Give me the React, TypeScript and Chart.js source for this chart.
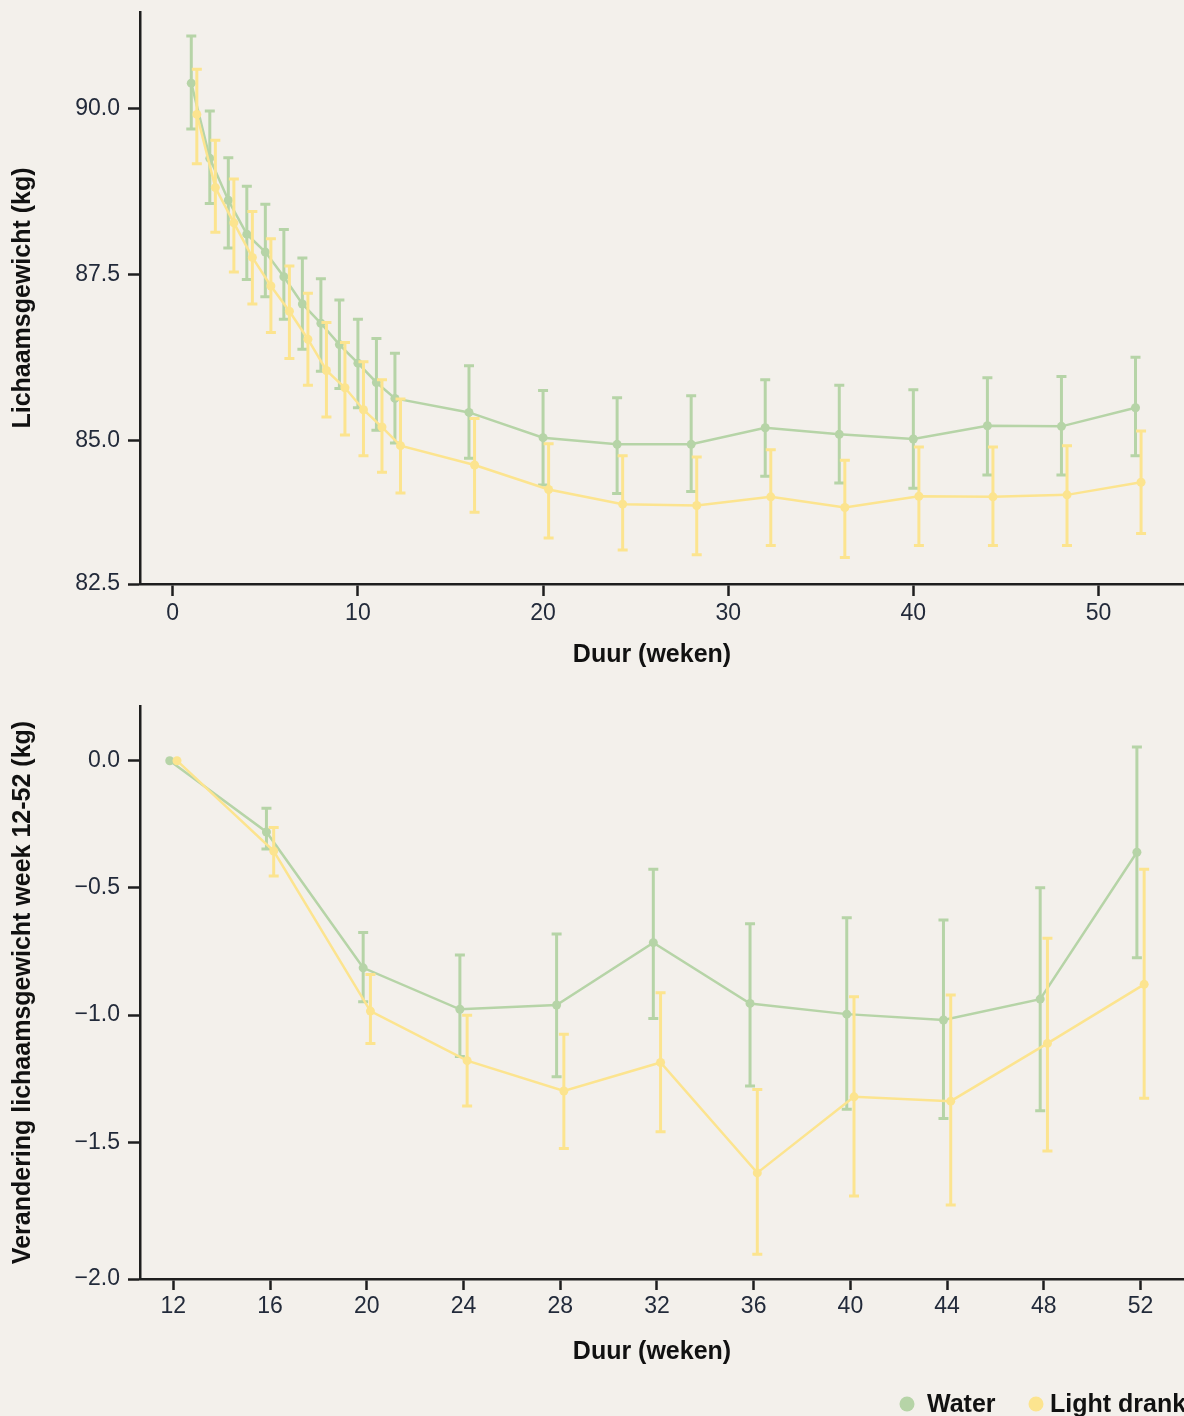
import React, { useEffect, useRef } from "react";
import { Chart, registerables } from "chart.js";

Chart.register(...registerables);

// ---------- data ----------
const topWeeks = [1, 2, 3, 4, 5, 6, 7, 8, 9, 10, 11, 12, 16, 20, 24, 28, 32, 36, 40, 44, 48, 52];
const topWaterMean = [90.38, 89.25, 88.62, 88.11, 87.84, 87.47, 87.06, 86.77, 86.45, 86.17, 85.88, 85.64, 85.43, 85.05, 84.95, 84.95, 85.2, 85.1, 85.03, 85.23, 85.22, 85.5];
const topWaterUpper = [91.09, 89.96, 89.26, 88.83, 88.56, 88.18, 87.75, 87.44, 87.12, 86.83, 86.54, 86.32, 86.13, 85.76, 85.65, 85.68, 85.92, 85.84, 85.77, 85.95, 85.97, 86.26];
const topWaterLower = [89.69, 88.57, 87.9, 87.43, 87.17, 86.83, 86.38, 86.05, 85.79, 85.5, 85.16, 84.97, 84.74, 84.34, 84.21, 84.24, 84.47, 84.37, 84.29, 84.49, 84.49, 84.78];
const topLightMean = [89.91, 88.81, 88.28, 87.76, 87.33, 86.95, 86.53, 86.06, 85.8, 85.47, 85.21, 84.93, 84.64, 84.27, 84.05, 84.03, 84.16, 84.0, 84.17, 84.16, 84.19, 84.38];
const topLightUpper = [90.59, 89.52, 88.94, 88.45, 88.04, 87.63, 87.22, 86.78, 86.48, 86.19, 85.92, 85.63, 85.34, 84.96, 84.78, 84.76, 84.87, 84.71, 84.91, 84.91, 84.93, 85.15];
const topLightLower = [89.17, 88.14, 87.54, 87.06, 86.63, 86.24, 85.84, 85.36, 85.09, 84.78, 84.53, 84.22, 83.93, 83.54, 83.36, 83.29, 83.43, 83.25, 83.43, 83.43, 83.43, 83.61];

const topXTicks = [0, 10, 20, 30, 40, 50];
const topYTickLabels = ["82.5", "85.0", "87.5", "90.0"];
const topYTickValues = [85, 87.5, 90]; // the 82.5 label sits on the (cut) axis line

const bottomWeeks = [12, 16, 20, 24, 28, 32, 36, 40, 44, 48, 52];
const bottomWaterMean = [0, -0.28, -0.814, -0.977, -0.96, -0.715, -0.954, -0.996, -1.019, -0.937, -0.36];
const bottomWaterUpper = [null, -0.187, -0.675, -0.764, -0.681, -0.427, -0.641, -0.617, -0.626, -0.499, 0.054];
const bottomWaterLower = [null, -0.347, -0.947, -1.163, -1.242, -1.013, -1.278, -1.37, -1.406, -1.376, -0.774];
const bottomLightMean = [0, -0.355, -0.984, -1.179, -1.298, -1.186, -1.62, -1.321, -1.338, -1.111, -0.879];
const bottomLightUpper = [null, -0.263, -0.84, -1.0, -1.075, -0.912, -1.292, -0.928, -0.921, -0.698, -0.427];
const bottomLightLower = [null, -0.453, -1.111, -1.357, -1.524, -1.458, -1.94, -1.711, -1.746, -1.534, -1.327];

const bottomXTicks = [12, 16, 20, 24, 28, 32, 36, 40, 44, 48, 52];
const bottomYTickLabels = ["\u22122.0", "\u22121.5", "\u22121.0", "\u22120.5", "0.0"];
const bottomYTickValues = [-1.5, -1, -0.5, 0];

const seriesLabels = ["Water", "Light drank"];
const xAxisTitle = "Duur (weken)";

// ---------- style ----------
const FONT = '"Liberation Sans", Arial, Helvetica, sans-serif';
const BG = "#f3f0eb";
const GREEN = "#b6d4a7";
const YELLOW = "#fce48f";
const AXIS = "#1e1e1e";
const TICK_TEXT = "#222a3a";
const TITLE_TEXT = "#111111";
const CANVAS_W = 1190;

const errorBarPlugin = {
  id: "errorBars",
  beforeDatasetDraw(chart: any, args: any) {
    const ds = chart.data.datasets[args.index];
    if (!ds.errLow) return;
    const meta = args.meta;
    const yScale = chart.scales[meta.yAxisID];
    const ctx = chart.ctx;
    const area = chart.chartArea;
    ctx.save();
    ctx.beginPath();
    ctx.rect(area.left, area.top, area.right - area.left, area.bottom - area.top);
    ctx.clip();
    ctx.strokeStyle = ds.borderColor;
    ctx.lineWidth = 3;
    meta.data.forEach((pt: any, i: number) => {
      const lo = ds.errLow[i];
      const hi = ds.errHigh[i];
      if (lo == null || hi == null) return;
      const x = pt.x;
      const y1 = yScale.getPixelForValue(lo);
      const y2 = yScale.getPixelForValue(hi);
      ctx.beginPath();
      ctx.moveTo(x, y1);
      ctx.lineTo(x, y2);
      ctx.moveTo(x - 5, y1);
      ctx.lineTo(x + 5, y1);
      ctx.moveTo(x - 5, y2);
      ctx.lineTo(x + 5, y2);
      ctx.stroke();
    });
    ctx.restore();
  },
};

const cornerLegendPlugin = {
  id: "cornerLegend",
  afterDraw(chart: any, _args: any, opts: any) {
    if (!opts || !opts.items) return;
    const ctx = chart.ctx;
    ctx.save();
    opts.items.forEach((it: any) => {
      const ds = chart.data.datasets[it.index];
      ctx.fillStyle = ds.borderColor;
      ctx.beginPath();
      ctx.arc(it.cx, opts.y, 7.5, 0, Math.PI * 2);
      ctx.fill();
      ctx.fillStyle = "#111";
      ctx.font = `bold 25px ${FONT}`;
      ctx.textBaseline = "middle";
      ctx.textAlign = "left";
      ctx.fillText(ds.label, it.tx, opts.y + 1);
    });
    ctx.restore();
  },
};

const xTitlePlugin = {
  id: "xTitle",
  afterDraw(chart: any, _args: any, opts: any) {
    if (!opts || !opts.text) return;
    const ctx = chart.ctx;
    ctx.save();
    ctx.fillStyle = TITLE_TEXT;
    ctx.font = `bold 25px ${FONT}`;
    ctx.textBaseline = "middle";
    ctx.textAlign = "center";
    ctx.fillText(opts.text, opts.cx, opts.cy);
    ctx.restore();
  },
};

function makeDataset(label: string, color: string, weeks: number[], mean: number[], lo: any[], hi: any[], dx: number, order: number) {
  return {
    label,
    data: weeks.map((w, i) => ({ x: w + dx, y: mean[i] })),
    errLow: lo,
    errHigh: hi,
    borderColor: color,
    backgroundColor: color,
    pointBackgroundColor: color,
    pointBorderWidth: 0,
    pointRadius: 4.5,
    borderWidth: 2.5,
    tension: 0,
    order,
  };
}

function buildConfig(p: any) {
  const fmtLabels = p.yLabels;
  return {
    type: "line",
    data: { datasets: p.datasets },
    plugins: [errorBarPlugin, cornerLegendPlugin, xTitlePlugin],
    options: {
      animation: false,
      responsive: false,
      devicePixelRatio: 1,
      layout: { padding: { top: p.padTop, left: 0, right: 0, bottom: 0 } },
      plugins: {
        legend: { display: false },
        tooltip: { enabled: false },
        cornerLegend: p.legend || {},
        xTitle: { text: xAxisTitle, cx: 652, cy: p.xTitleY },
      },
      scales: {
        x: {
          type: "linear",
          min: p.xMin,
          max: p.xMax,
          afterBuildTicks: (s: any) => {
            s.ticks = p.xTicks.map((v: number) => ({ value: v }));
          },
          afterFit: (s: any) => {
            s.height = p.xHeight;
            s.paddingLeft = 0;
            s.paddingRight = 0;
          },
          ticks: {
            font: { family: FONT, size: 23 },
            color: TICK_TEXT,
            padding: p.xTickPad,
            maxRotation: 0,
            autoSkip: false,
            callback: (v: any) => String(v),
          },
          grid: { drawOnChartArea: false, drawTicks: true, tickLength: p.xTickLen, tickColor: AXIS, tickWidth: 2.5 },
          border: { display: true, color: AXIS, width: 2.5 },
          title: { display: false },
        },
        y: {
          type: "linear",
          min: p.yMin,
          max: p.yMax,
          afterBuildTicks: (s: any) => {
            s.ticks = [{ value: p.yMin }].concat(p.yTickValues.map((v: number) => ({ value: v })));
          },
          afterFit: (s: any) => {
            s.width = 140;
            s.paddingTop = 0;
            s.paddingBottom = 0;
          },
          ticks: {
            font: { family: FONT, size: 23 },
            color: TICK_TEXT,
            padding: 8,
            autoSkip: false,
            callback: (_v: any, i: number) => fmtLabels[i],
          },
          grid: { drawOnChartArea: false, drawTicks: true, tickLength: 12, tickColor: AXIS, tickWidth: 2.5 },
          border: { display: true, color: AXIS, width: 2.5 },
          title: {
            display: true,
            text: p.yTitle,
            font: { family: FONT, size: 25, weight: "bold" },
            color: TITLE_TEXT,
            padding: { top: 8, bottom: 0 },
          },
        },
      },
    },
  };
}

function ChartCanvas(props: { width: number; height: number; top: number; config: any }) {
  const ref = useRef<HTMLCanvasElement | null>(null);
  useEffect(() => {
    if (!ref.current) return;
    const chart = new Chart(ref.current, props.config);
    return () => chart.destroy();
  }, []);
  return (
    <canvas
      ref={ref}
      width={props.width}
      height={props.height}
      style={{ position: "absolute", left: 0, top: props.top, width: props.width, height: props.height }}
    />
  );
}

export default function App() {
  const topConfig = buildConfig({
    datasets: [
      makeDataset(seriesLabels[0], GREEN, topWeeks, topWaterMean, topWaterLower, topWaterUpper, 0, 1),
      makeDataset(seriesLabels[1], YELLOW, topWeeks, topLightMean, topLightLower, topLightUpper, 0.3, 0),
    ],
    padTop: 12,
    xMin: -1.77,
    xMax: 54.7,
    xTicks: topXTicks,
    xHeight: 106,
    xTickPad: 4,
    xTickLen: 12,
    xTitleY: 655,
    yMin: 82.85,
    yMax: 91.45,
    yTickValues: topYTickValues,
    yLabels: topYTickLabels,
    yTitle: "Lichaamsgewicht (kg)",
  });

  const bottomConfig = buildConfig({
    datasets: [
      makeDataset(seriesLabels[0], GREEN, bottomWeeks, bottomWaterMean, bottomWaterLower, bottomWaterUpper, -0.15, 1),
      makeDataset(seriesLabels[1], YELLOW, bottomWeeks, bottomLightMean, bottomLightLower, bottomLightUpper, 0.15, 0),
    ],
    padTop: 16,
    xMin: 10.62,
    xMax: 53.86,
    xTicks: bottomXTicks,
    xHeight: 137,
    xTickPad: 3,
    xTickLen: 11,
    xTitleY: 662,
    yMin: -2.037,
    yMax: 0.215,
    yTickValues: bottomYTickValues,
    yLabels: bottomYTickLabels,
    yTitle: "Verandering lichaamsgewicht week 12-52 (kg)",
    legend: {
      y: 714,
      items: [
        { index: 0, cx: 907, tx: 927 },
        { index: 1, cx: 1036, tx: 1050 },
      ],
    },
  });

  return (
    <div
      style={{
        position: "absolute",
        left: 0,
        top: 0,
        width: 1184,
        height: 1416,
        background: BG,
        overflow: "hidden",
      }}
    >
      <ChartCanvas width={CANVAS_W} height={690} top={0} config={topConfig} />
      <ChartCanvas width={CANVAS_W} height={726} top={690} config={bottomConfig} />
    </div>
  );
}
